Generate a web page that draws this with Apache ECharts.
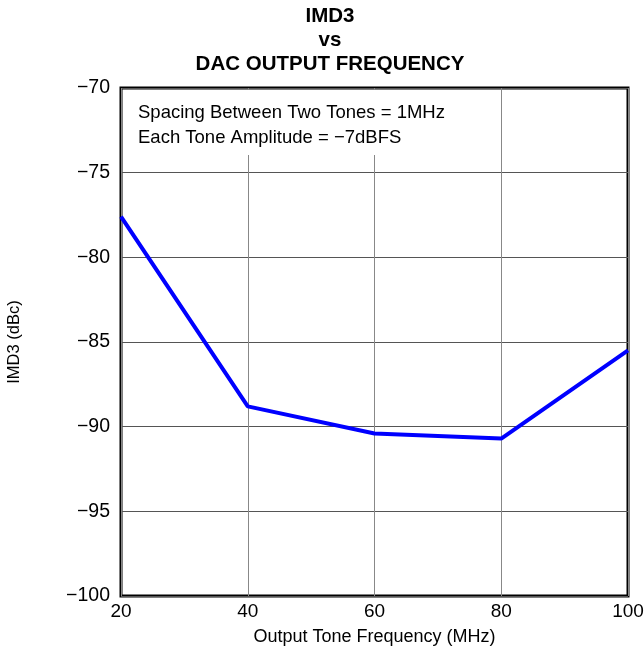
<!DOCTYPE html>
<html><head><meta charset="utf-8">
<script src="https://cdn.jsdelivr.net/npm/echarts@6/dist/echarts.min.js"></script>
<style>html,body{margin:0;padding:0;background:#fff}#c{width:644px;height:649px}</style>
</head><body><div id="c"></div>
<script>
const freqMHz = [20, 40, 60, 80, 100];
const imd3dBc = [-77.6, -88.8, -90.4, -90.7, -85.5];
const titleLines = ['IMD3', 'vs', 'DAC OUTPUT FREQUENCY'];
const noteLines = ['Spacing Between Two Tones = 1MHz', 'Each Tone Amplitude = \u22127dBFS'];
const F = '"Liberation Sans", Arial, sans-serif';

const chart = echarts.init(document.getElementById('c'), null, {renderer: 'canvas'});
chart.setOption({
  animation: false,
  backgroundColor: '#fff',
  grid: {left: 121, right: 16, top: 88, bottom: 53, show: true, borderColor: '#000', borderWidth: 3,
    backgroundColor: 'transparent', containLabel: false, outerBoundsMode: 'none'},
  xAxis: {
    type: 'value', min: 20, max: 100, interval: 20,
    name: 'Output Tone Frequency (MHz)', nameLocation: 'middle', nameGap: 32,
    nameTextStyle: {fontFamily: F, fontSize: 18, color: '#000'},
    axisLine: {show: false}, axisTick: {show: false},
    axisLabel: {fontFamily: F, fontSize: 19, color: '#000', margin: 6},
    splitLine: {show: true, lineStyle: {color: '#888', width: 1}}
  },
  yAxis: {
    type: 'value', min: -100, max: -70, interval: 5,
    name: 'IMD3 (dBc)', nameLocation: 'middle', nameGap: 98,
    nameTextStyle: {fontFamily: F, fontSize: 16.5, color: '#000'},
    axisLine: {show: false}, axisTick: {show: false},
    axisLabel: {fontFamily: F, fontSize: 19.5, color: '#000', margin: 11,
      formatter: v => String(v).replace('-', '\u2212')},
    splitLine: {show: true, lineStyle: {color: '#555', width: 1}}
  },
  series: [{
    type: 'line', data: freqMHz.map((x, i) => [x, imd3dBc[i]]),
    symbol: 'none', lineStyle: {color: '#0000ff', width: 4}, z: 3
  }],
  graphic: [
    {type: 'text', x: 330, y: 4, style: {text: titleLines.join('\n'), fontFamily: F, fontWeight: 'bold', fontSize: 20.5, lineHeight: 24, align: 'center', fill: '#000'}, z: 10},
    {type: 'rect', shape: {x: 123, y: 90, width: 350, height: 65}, style: {fill: '#fff'}, z: 5},
    {type: 'text', x: 138, y: 100, style: {text: noteLines.join('\n'), fontFamily: F, fontSize: 18.5, lineHeight: 25, fill: '#000'}, z: 6}
  ]
});
</script></body></html>
